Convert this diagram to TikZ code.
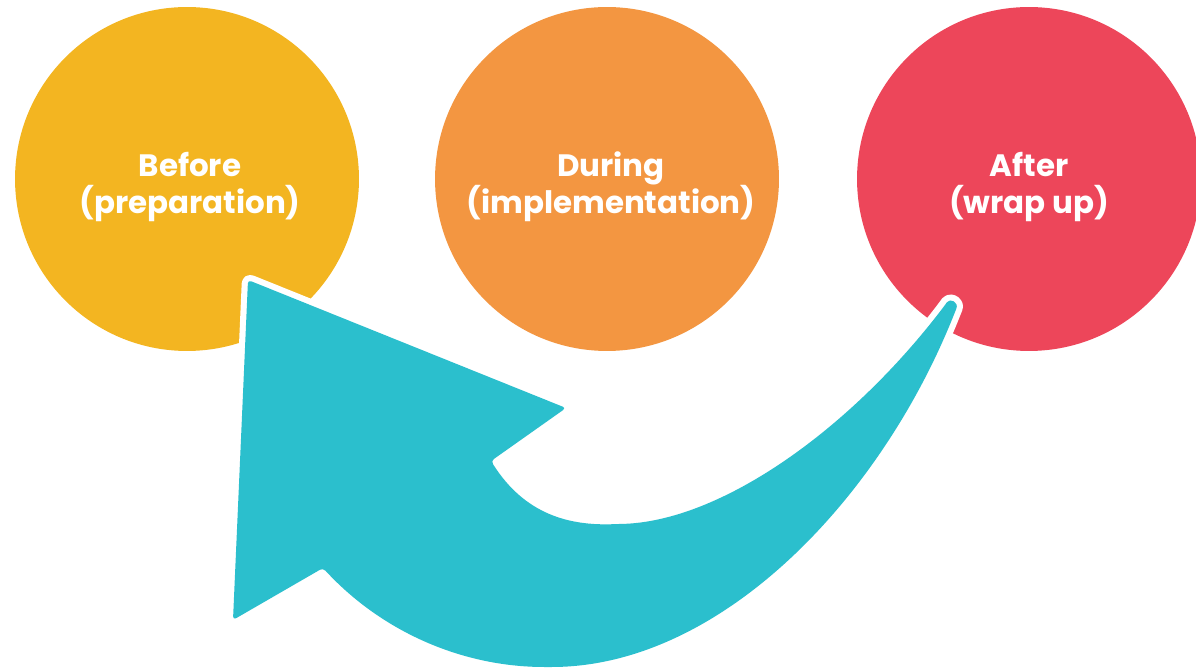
\documentclass[tikz,border=0pt]{standalone}
\usepackage{fontspec}
\setmainfont{Poppins}
\usepackage{xcolor}
\definecolor{stage-yellow}{HTML}{F3B521}
\definecolor{stage-orange}{HTML}{F39641}
\definecolor{stage-red}{HTML}{ED465A}
\definecolor{loop-teal}{HTML}{2BBFCD}
\tikzset{
    stage-circle/.style = {circle, minimum size=6.88cm, inner sep=0pt},
    stage-label/.style = {text=white, align=center, inner sep=0pt, font=\bfseries\fontsize{17.6}{21}\selectfont},
    loop-arrow/.style = {fill=loop-teal, rounded corners=2pt, preaction={draw=white, line width=7pt, line join=round}},
}

\begin{document}
\begin{tikzpicture}[x=0.02cm, y=-0.02cm]
\useasboundingbox (0,0) rectangle (1196,668);
\node[stage-circle, fill=stage-yellow] (before) at (187,179) {};
\node[stage-circle, fill=stage-orange] (during) at (607,179) {};
\node[stage-circle, fill=stage-red] (after) at (1029,179) {};
\node[stage-label] (before-text) at ([shift={(3,8)}]before.center) {Before\\(preparation)};
\node[stage-label] (during-text) at ([shift={(4,8)}]during.center) {During\\(implementation)};
\node[stage-label] (after-text) at ([shift={(0,8)}]after.center) {After\\(wrap up)};
% curved arrow from after back to before
\path[loop-arrow] (248,280) -- (566,408) -- (491,461)
    .. controls (525,515) and (570,526) .. (618,524)
    .. controls (720,522) and (850,430) .. (945,305)
    .. controls (950,298) and (959,302) .. (955,312)
    .. controls (880,500) and (720,667) .. (548,667)
    .. controls (460,667) and (380,630) .. (323,568)
    -- (233,620) -- cycle;
\end{tikzpicture}
\end{document}
